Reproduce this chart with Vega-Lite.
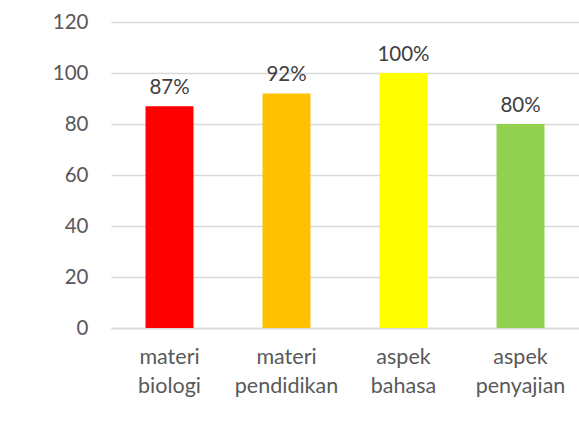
{
  "$schema": "https://vega.github.io/schema/vega-lite/v6.json",
  "autosize": {"type": "none"},
  "width": 468,
  "height": 306,
  "padding": {"left": 111, "top": 22, "right": 0, "bottom": 101},
  "background": "white",
  "config": {
    "view": {"stroke": null},
    "font": "Lato"
  },
  "data": {
    "values": [
      {"kategori": "materi biologi", "nilai": 87, "label": "87%", "warna": "#FF0000"},
      {"kategori": "materi pendidikan", "nilai": 92, "label": "92%", "warna": "#FFC000"},
      {"kategori": "aspek bahasa", "nilai": 100, "label": "100%", "warna": "#FFFF00"},
      {"kategori": "aspek penyajian", "nilai": 80, "label": "80%", "warna": "#92D050"}
    ]
  },
  "encoding": {
    "x": {
      "field": "kategori",
      "type": "nominal",
      "sort": null,
      "scale": {"paddingInner": 0.59, "paddingOuter": 0.295},
      "axis": {
        "title": null,
        "labelAngle": 0,
        "labelExpr": "split(datum.label, ' ')",
        "labelFont": "Lato",
        "labelFontSize": 21.5,
        "labelColor": "#595959",
        "labelLineHeight": 29,
        "labelPadding": 18,
        "ticks": false,
        "domainColor": "#D9D9D9",
        "domainWidth": 1.5,
        "grid": false
      }
    },
    "y": {
      "field": "nilai",
      "type": "quantitative",
      "scale": {"domain": [0, 120], "nice": false},
      "axis": {
        "title": null,
        "values": [0, 20, 40, 60, 80, 100, 120],
        "labelFont": "Lato",
        "labelFontSize": 20.5,
        "labelColor": "#595959",
        "labelPadding": 23,
        "ticks": false,
        "domain": false,
        "grid": true,
        "gridColor": "#D9D9D9",
        "gridWidth": 1.5
      }
    }
  },
  "layer": [
    {
      "mark": {"type": "bar"},
      "encoding": {
        "color": {"field": "warna", "type": "nominal", "scale": null, "legend": null}
      }
    },
    {
      "mark": {"type": "text", "baseline": "bottom", "dy": -8, "fontSize": 20.5, "font": "Lato", "color": "#404040"},
      "encoding": {
        "text": {"field": "label", "type": "nominal"}
      }
    }
  ]
}
